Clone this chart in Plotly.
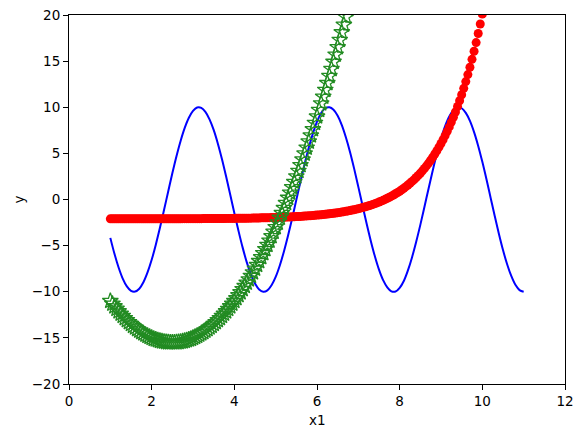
import plotly.graph_objects as go

# x positions of the samples (0.1 apart for the line,
# 0.05 apart for the marker series)
x_line = [
    1.0, 1.1, 1.2, 1.3, 1.4, 1.5, 1.6, 1.7, 1.8, 1.9,
    2.0, 2.1, 2.2, 2.3, 2.4, 2.5, 2.6, 2.7, 2.8, 2.9,
    3.0, 3.1, 3.2, 3.3, 3.4, 3.5, 3.6, 3.7, 3.8, 3.9,
    4.0, 4.1, 4.2, 4.3, 4.4, 4.5, 4.6, 4.7, 4.8, 4.9,
    5.0, 5.1, 5.2, 5.3, 5.4, 5.5, 5.6, 5.7, 5.8, 5.9,
    6.0, 6.1, 6.2, 6.3, 6.4, 6.5, 6.6, 6.7, 6.8, 6.9,
    7.0, 7.1, 7.2, 7.3, 7.4, 7.5, 7.6, 7.7, 7.8, 7.9,
    8.0, 8.1, 8.2, 8.3, 8.4, 8.5, 8.6, 8.7, 8.8, 8.9,
    9.0, 9.1, 9.2, 9.3, 9.4, 9.5, 9.6, 9.7, 9.8, 9.9,
    10.0, 10.1, 10.2, 10.3, 10.4, 10.5, 10.6, 10.7, 10.8, 10.9,
    11.0,
]

x_pts = [
    1.00, 1.05, 1.10, 1.15, 1.20, 1.25, 1.30, 1.35, 1.40, 1.45,
    1.50, 1.55, 1.60, 1.65, 1.70, 1.75, 1.80, 1.85, 1.90, 1.95,
    2.00, 2.05, 2.10, 2.15, 2.20, 2.25, 2.30, 2.35, 2.40, 2.45,
    2.50, 2.55, 2.60, 2.65, 2.70, 2.75, 2.80, 2.85, 2.90, 2.95,
    3.00, 3.05, 3.10, 3.15, 3.20, 3.25, 3.30, 3.35, 3.40, 3.45,
    3.50, 3.55, 3.60, 3.65, 3.70, 3.75, 3.80, 3.85, 3.90, 3.95,
    4.00, 4.05, 4.10, 4.15, 4.20, 4.25, 4.30, 4.35, 4.40, 4.45,
    4.50, 4.55, 4.60, 4.65, 4.70, 4.75, 4.80, 4.85, 4.90, 4.95,
    5.00, 5.05, 5.10, 5.15, 5.20, 5.25, 5.30, 5.35, 5.40, 5.45,
    5.50, 5.55, 5.60, 5.65, 5.70, 5.75, 5.80, 5.85, 5.90, 5.95,
    6.00, 6.05, 6.10, 6.15, 6.20, 6.25, 6.30, 6.35, 6.40, 6.45,
    6.50, 6.55, 6.60, 6.65, 6.70, 6.75, 6.80, 6.85, 6.90, 6.95,
    7.00, 7.05, 7.10, 7.15, 7.20, 7.25, 7.30, 7.35, 7.40, 7.45,
    7.50, 7.55, 7.60, 7.65, 7.70, 7.75, 7.80, 7.85, 7.90, 7.95,
    8.00, 8.05, 8.10, 8.15, 8.20, 8.25, 8.30, 8.35, 8.40, 8.45,
    8.50, 8.55, 8.60, 8.65, 8.70, 8.75, 8.80, 8.85, 8.90, 8.95,
    9.00, 9.05, 9.10, 9.15, 9.20, 9.25, 9.30, 9.35, 9.40, 9.45,
    9.50, 9.55, 9.60, 9.65, 9.70, 9.75, 9.80, 9.85, 9.90, 9.95,
    10.00, 10.05,
]

# blue wave
blue_y = [
    -4.16, -5.89, -7.37, -8.57, -9.42, -9.90, -9.98, -9.67, -8.97, -7.91,
    -6.54, -4.90, -3.07, -1.12, 0.87, 2.84, 4.69, 6.35, 7.76, 8.86,
    9.60, 9.97, 9.93, 9.50, 8.69, 7.54, 6.08, 4.39, 2.51, 0.54,
    -1.46, -3.39, -5.19, -6.79, -8.11, -9.11, -9.75, -10.00, -9.85, -9.30,
    -8.39, -7.15, -5.63, -3.90, -2.03, -0.04, 1.94, 3.85, 5.61, 7.14,
    8.44, 9.38, 9.89, 9.99, 9.73, 9.07, 8.06, 6.72, 5.13, 3.32,
    1.37, -0.63, -2.60, -4.46, -6.15, -7.60, -8.74, -9.52, -9.95, -9.98,
    -9.58, -8.83, -7.68, -6.25, -4.58, -2.75, -0.79, 1.20, 3.14, 4.98,
    6.60, 7.96, 9.00, 9.68, 9.99, 9.89, 9.39, 8.52, 7.31, 5.81,
    4.08, 2.19, 0.20, -1.79, -3.71, -5.48, -7.02, -8.29, -9.25, -9.82,
    -10.00,
]

# red circles
red_y = [
    -2.10, -2.10, -2.10, -2.10, -2.10, -2.10, -2.10, -2.10, -2.10, -2.10,
    -2.10, -2.10, -2.10, -2.09, -2.09, -2.09, -2.09, -2.09, -2.09, -2.09,
    -2.09, -2.09, -2.09, -2.09, -2.09, -2.09, -2.09, -2.09, -2.09, -2.09,
    -2.09, -2.09, -2.09, -2.09, -2.09, -2.08, -2.08, -2.08, -2.08, -2.08,
    -2.08, -2.08, -2.08, -2.08, -2.08, -2.07, -2.07, -2.07, -2.07, -2.07,
    -2.07, -2.06, -2.06, -2.06, -2.06, -2.06, -2.05, -2.05, -2.05, -2.05,
    -2.05, -2.04, -2.04, -2.04, -2.03, -2.03, -2.03, -2.02, -2.02, -2.01,
    -2.01, -2.00, -2.00, -1.99, -1.99, -1.98, -1.98, -1.97, -1.96, -1.96,
    -1.95, -1.94, -1.93, -1.93, -1.92, -1.91, -1.90, -1.89, -1.88, -1.87,
    -1.85, -1.84, -1.83, -1.81, -1.80, -1.78, -1.77, -1.75, -1.73, -1.71,
    -1.69, -1.67, -1.65, -1.63, -1.60, -1.58, -1.55, -1.52, -1.49, -1.46,
    -1.43, -1.40, -1.36, -1.32, -1.28, -1.24, -1.20, -1.15, -1.10, -1.05,
    -0.99, -0.94, -0.88, -0.82, -0.75, -0.68, -0.61, -0.53, -0.45, -0.37,
    -0.28, -0.18, -0.09, 0.02, 0.13, 0.24, 0.36, 0.49, 0.62, 0.76,
    0.90, 1.06, 1.22, 1.39, 1.57, 1.76, 1.96, 2.16, 2.38, 2.61,
    2.85, 3.11, 3.37, 3.65, 3.95, 4.26, 4.59, 4.93, 5.29, 5.67,
    6.07, 6.48, 6.93, 7.39, 7.87, 8.39, 8.92, 9.49, 10.08, 10.71,
    11.36, 12.05, 12.78, 13.54, 14.34, 15.19, 16.07, 17.01, 17.99, 19.02,
    20.10, 21.24,
]

# green stars
green_y = [
    -11.00, -11.30, -11.58, -11.85, -12.12, -12.38, -12.62, -12.86, -13.08, -13.30,
    -13.50, -13.70, -13.88, -14.06, -14.22, -14.38, -14.52, -14.66, -14.78, -14.90,
    -15.00, -15.10, -15.18, -15.26, -15.32, -15.38, -15.42, -15.46, -15.48, -15.50,
    -15.50, -15.50, -15.48, -15.46, -15.42, -15.38, -15.32, -15.26, -15.18, -15.10,
    -15.00, -14.90, -14.78, -14.66, -14.52, -14.38, -14.22, -14.06, -13.88, -13.70,
    -13.50, -13.30, -13.08, -12.86, -12.62, -12.38, -12.12, -11.86, -11.58, -11.30,
    -11.00, -10.70, -10.38, -10.06, -9.72, -9.38, -9.02, -8.66, -8.28, -7.90,
    -7.50, -7.10, -6.68, -6.26, -5.82, -5.38, -4.92, -4.46, -3.98, -3.50,
    -3.00, -2.50, -1.98, -1.46, -0.92, -0.38, 0.18, 0.74, 1.32, 1.90,
    2.50, 3.10, 3.72, 4.34, 4.98, 5.62, 6.28, 6.94, 7.62, 8.30,
    9.00, 9.70, 10.42, 11.14, 11.88, 12.62, 13.38, 14.14, 14.92, 15.70,
    16.50, 17.30, 18.12, 18.94, 19.78, 20.62,
]

x_ticks = [0, 2, 4, 6, 8, 10, 12]
y_ticks = [-20, -15, -10, -5, 0, 5, 10, 15, 20]

fig = go.Figure()

fig.add_trace(go.Scatter(
    x=x_line, y=blue_y, mode="lines",
    line=dict(color="#0000ff", width=2, shape="spline"),
))
fig.add_trace(go.Scatter(
    x=x_pts[:len(red_y)], y=red_y, mode="markers",
    marker=dict(symbol="circle", size=9, color="#ff0000", line=dict(width=0)),
))
fig.add_trace(go.Scatter(
    x=x_pts[:len(green_y)], y=green_y, mode="markers",
    marker=dict(symbol="star-open", size=12, color="#228b22", line=dict(width=1.3)),
))

font = dict(family="DejaVu Sans", size=13.5, color="black")

axis_style = dict(
    showgrid=False, zeroline=False, automargin=False,
    showline=True, linecolor="black", linewidth=1, mirror=True,
    ticks="outside", ticklen=5, tickwidth=1, tickcolor="black",
    tickfont=font,
)

fig.update_xaxes(range=[0, 12], tickvals=x_ticks, **axis_style)
fig.update_yaxes(range=[-20, 20], tickvals=y_ticks, **axis_style)

# axis titles placed as annotations so the margins stay fixed
fig.add_annotation(text="x1", xref="paper", yref="paper", x=0.5, y=0,
                   yanchor="middle", yshift=-36, showarrow=False, font=font)
fig.add_annotation(text="y", xref="paper", yref="paper", x=0, y=0.5,
                   xanchor="center", xshift=-51, textangle=-90,
                   showarrow=False, font=font)

fig.update_layout(
    width=584, height=437,
    margin=dict(l=69, r=19, t=15, b=53),
    plot_bgcolor="white", paper_bgcolor="white",
    showlegend=False,
)

fig.write_html(
    "out.html",
    config={"displayModeBar": False},
    post_script="document.body.style.margin='0px';",
)
